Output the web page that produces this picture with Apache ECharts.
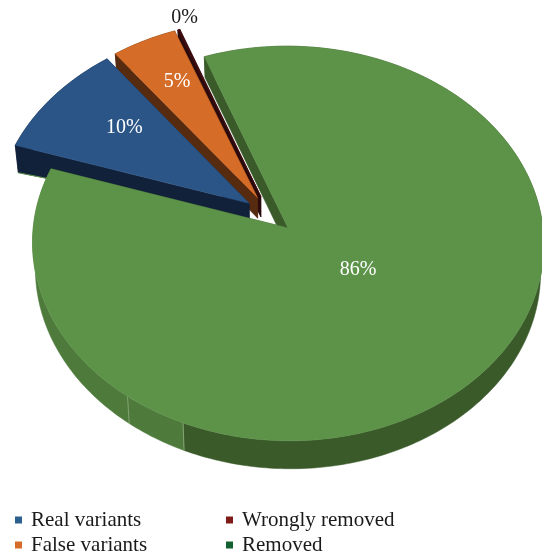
<!DOCTYPE html>
<html>
<head>
<meta charset="utf-8">
<style>html,body{margin:0;padding:0;background:#fff}#c{width:542px;height:556px}</style>
<script src="https://cdn.jsdelivr.net/npm/echarts@6/dist/echarts.min.js"></script>
</head>
<body>
<div id="c"></div>
<script>
// Data
var categories = ['Real variants', 'False variants', 'Wrongly removed', 'Removed'];
var seriesValues = [9.7, 4.5, 0.15, 85.65];
var tickLabels = ['10%', '5%', '0%', '86%'];

// Styling
var topColors = ['#2B5586', '#D56C28', '#3E0C10', '#5D9349'];
var sideColors = ['#12213A', '#562B10', '#2A0A0C', '#3A5A2A'];
var legendColors = ['#2B5F8F', '#D56C28', '#7F1A16', '#11602F'];
var labelColors = ['#fff', '#fff', '#1a1a1a', '#fff'];
var labelPlace = [[0.655, 3], [0.72, 1], [1.06, 2.5], [0.34, -6]];
var drawOrder = [2, 1, 0, 3];
var startAngle = -72, explode = 0.1;
var Cx = 269.7, Cy = 214.5, A = 253.5, B = 194, K = 0.078;
var lightFrom = 202.8, seams = [202.8, 216.5], lightSide = '#4E7A3C', seamColor = '#8FAF80';

function rad(d) { return d * Math.PI / 180; }
function project(p, q, z) {
  var d = 1 + K * q;
  var back = Math.max(0, -q);
  var depth = 20.5 + 6.5 * (p * p + back * back);
  return [Cx + A * p / d * (1 - 0.012 * z), Cy - B * q / d + depth * z];
}
function sliceGeom(i) {
  var total = seriesValues.reduce(function (s, v) { return s + v; }, 0), a0 = startAngle;
  for (var j = 0; j < i; j++) a0 += seriesValues[j] / total * 360;
  var a1 = a0 + seriesValues[i] / total * 360, m = (a0 + a1) / 2;
  return { a0: a0, a1: a1, m: m, ox: explode * Math.sin(rad(m)), oy: explode * Math.cos(rad(m)) };
}
function pt(g, r, ang, z) {
  return project(g.ox + r * Math.sin(rad(ang)), g.oy + r * Math.cos(rad(ang)), z);
}
function arcPts(g, a, b, z) {
  var out = [], n = Math.max(2, Math.ceil((b - a) / 1));
  for (var s = 0; s <= n; s++) out.push(pt(g, 1, a + (b - a) * s / n, z));
  return out;
}
function poly(points, fill, stroke) {
  return { type: 'polygon', shape: { points: points }, style: { fill: fill, stroke: stroke || fill, lineWidth: 0.5 } };
}
function seg(p0, p1, color, w) {
  return { type: 'line', shape: { x1: p0[0], y1: p0[1], x2: p1[0], y2: p1[1] }, style: { stroke: color, lineWidth: w } };
}
function wallBetween(g, a, b, fill) {
  return poly(arcPts(g, a, b, 0).concat(arcPts(g, a, b, 1).reverse()), fill);
}
function sideWall(g, ang, fill) {
  var top = [], bottom = [];
  for (var s = 0; s <= 12; s++) { top.push(pt(g, s / 12, ang, 0)); bottom.push(pt(g, s / 12, ang, 1)); }
  return poly(top.concat(bottom.reverse()), fill);
}
function makeRender(i) {
  return function () {
    var g = sliceGeom(i), kids = [];
    // radial side walls
    [g.a0, g.a1].forEach(function (ang) { kids.push(sideWall(g, ang, sideColors[i])); });
    // rim
    if (i === 3) {
      kids.push(wallBetween(g, g.a0, lightFrom, sideColors[i]));
      kids.push(wallBetween(g, lightFrom, g.a1, lightSide));
      seams.forEach(function (s) { kids.push(seg(pt(g, 1, s, 0), pt(g, 1, s, 1), seamColor, 0.8)); });
    } else {
      kids.push(wallBetween(g, g.a0, g.a1, sideColors[i]));
    }
    if (i === 0) kids.push(seg(pt(g, 1, g.a0, 1), pt(g, 0.87, g.a0, 1), topColors[3], 1));
    // top
    kids.push(poly([pt(g, 0, 0, 0)].concat(arcPts(g, g.a0, g.a1, 0)), topColors[i]));
    // label
    var lp = pt(g, labelPlace[i][0], g.m + labelPlace[i][1], 0);
    kids.push({ type: 'text', x: lp[0], y: lp[1], z2: 100, style: {
      text: tickLabels[i], fill: labelColors[i], align: 'center', verticalAlign: 'middle',
      font: '20px "Liberation Serif", serif' } });
    return { type: 'group', children: kids };
  };
}

var chart = echarts.init(document.getElementById('c'), null, { renderer: 'canvas' });
var series = drawOrder.map(function (i) {
  return {
    type: 'custom', name: categories[i], coordinateSystem: 'none', silent: true, animation: false,
    itemStyle: { color: legendColors[i] },
    data: [[seriesValues[i]]], renderItem: makeRender(i)
  };
});
function legend(names, left) {
  return {
    orient: 'vertical', left: left, top: 508.5, height: 80, itemWidth: 7, itemHeight: 7, itemGap: 2, icon: 'rect',
    selectedMode: false, padding: 0, data: names,
    textStyle: { fontFamily: '"Liberation Serif", serif', fontSize: 21, color: '#1a1a1a', padding: [0, 0, 0, 4], lineHeight: 23 }
  };
}
chart.setOption({
  animation: false,
  backgroundColor: '#fff',
  legend: [legend(categories.slice(0, 2), 15), legend(categories.slice(2, 4), 226)],
  series: series
});
</script>
</body>
</html>
